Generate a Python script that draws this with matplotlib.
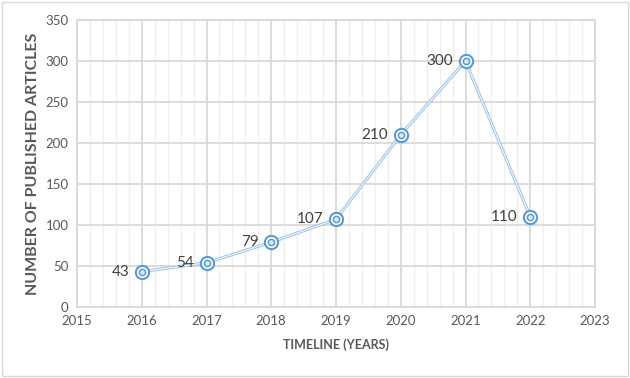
import matplotlib.pyplot as plt
from matplotlib.ticker import MultipleLocator
from matplotlib.patches import Rectangle

plt.rcParams['font.family'] = ['Lato', 'DejaVu Sans']

years = [2016, 2017, 2018, 2019, 2020, 2021, 2022]
articles = [43, 54, 79, 107, 210, 300, 110]

line_c = '#9dc3e6'
mark_c = '#5b9bd5'
text_c = '#595959'

fig = plt.figure(figsize=(6.3, 3.78), dpi=100)
ax = fig.add_axes([77 / 630, 1 - 307 / 378, 518 / 630, 287 / 378])

# outer chart border
fig.patches.append(Rectangle((0.003, 0.004), 0.994, 0.99, transform=fig.transFigure,
                             fill=False, edgecolor='#d9d9d9', linewidth=1))

ax.set_xlim(2015, 2023)
ax.set_ylim(0, 350)
ax.xaxis.set_major_locator(MultipleLocator(1))
ax.xaxis.set_minor_locator(MultipleLocator(0.2))
ax.yaxis.set_major_locator(MultipleLocator(50))
ax.grid(which='major', color='#d9d9d9', linewidth=1.3)
ax.grid(which='minor', axis='x', color='#efefef', linewidth=1)
ax.set_axisbelow(True)
for s in ax.spines.values():
    s.set_color('#d9d9d9')
    s.set_linewidth(1.3)
ax.tick_params(which='both', length=0, labelsize=9.5, labelcolor=text_c, pad=6)

# double line: light blue with white center
ax.plot(years, articles, color=line_c, linewidth=2.2, zorder=3)
ax.plot(years, articles, color='white', linewidth=0.7, zorder=3)
# double ring markers
ax.plot(years, articles, linestyle='none', marker='o', markersize=9.5,
        markerfacecolor='white', markeredgecolor=mark_c, markeredgewidth=1.5, zorder=4)
ax.plot(years, articles, linestyle='none', marker='o', markersize=4.5,
        markerfacecolor='#dbe8f5', markeredgecolor=mark_c, markeredgewidth=1.1, zorder=5)

for x, y in zip(years, articles):
    ax.annotate(str(y), (x, y), xytext=(-9, 0), textcoords='offset points',
                ha='right', va='center', fontsize=11, color='#404040', zorder=6)

ax.set_xlabel('TIMELINE (YEARS)', fontsize=9, fontweight='bold', color=text_c, labelpad=8)
ax.set_ylabel('NUMBER OF PUBLISHED ARTICLES', fontsize=11.5, fontweight='bold', color=text_c, labelpad=4)

fig.savefig('out.png', dpi=100)
